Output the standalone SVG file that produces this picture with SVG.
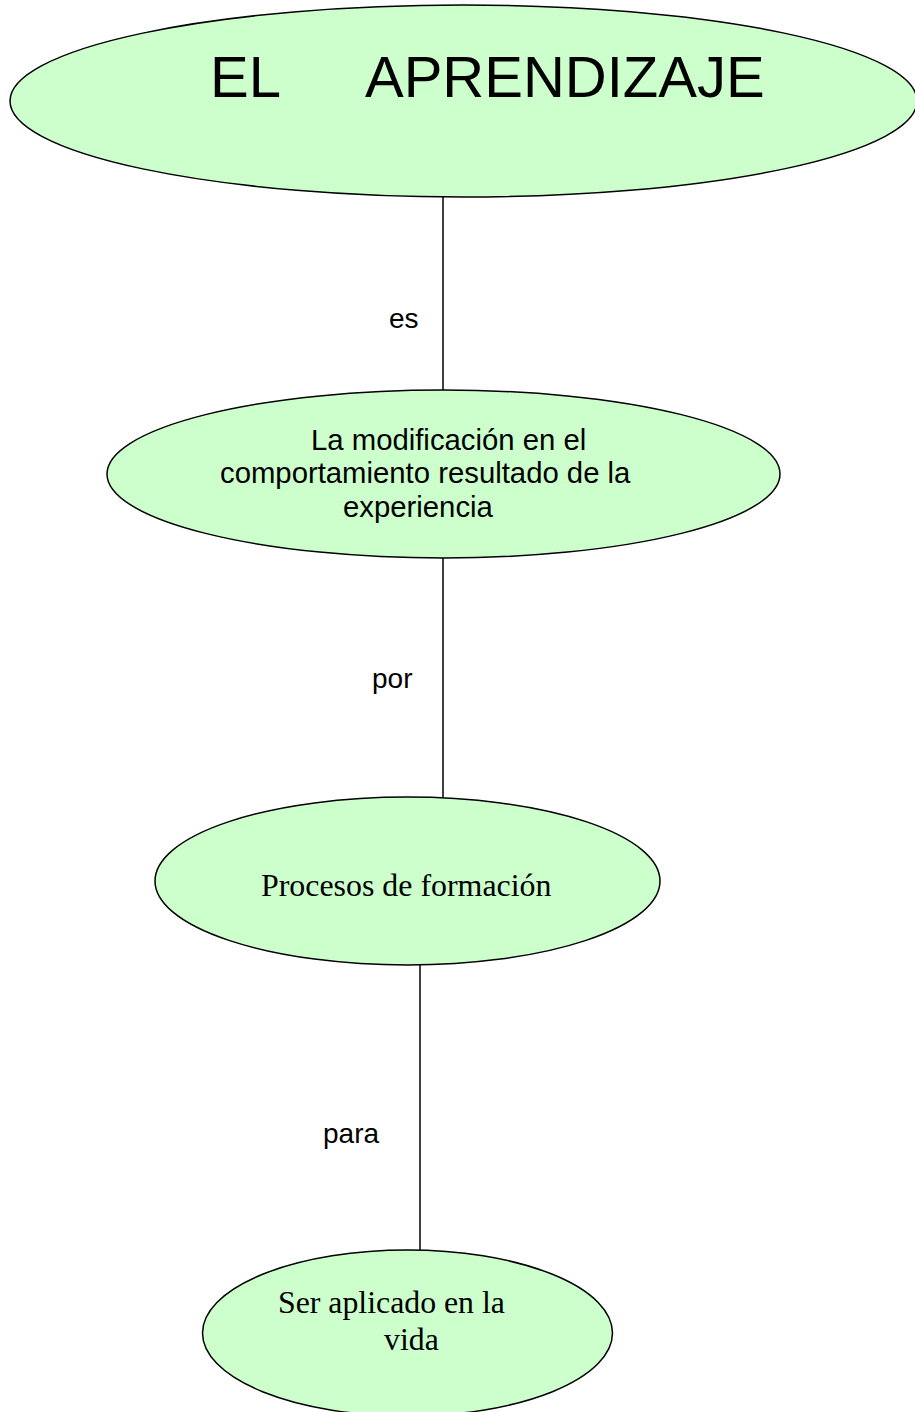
<svg xmlns="http://www.w3.org/2000/svg" width="915" height="1412" viewBox="0 0 915 1412">
<style>
.node{fill:#CCFFCC;stroke:#000;stroke-width:1.5}
.conn{stroke:#000;stroke-width:1.5;fill:none}
.sans{font-family:"Liberation Sans",Arial,sans-serif;fill:#000}
.serif{font-family:"Liberation Serif","Times New Roman",serif;fill:#000}
.lbl{font-size:28px}
</style>
<rect width="915" height="1412" fill="#fff"/>
<g id="connectors">
<line class="conn" x1="443" y1="197" x2="443" y2="390"/>
<line class="conn" x1="443" y1="558" x2="443" y2="800"/>
<line class="conn" x1="420" y1="963" x2="420" y2="1250"/>
<text class="sans lbl" x="389" y="328">es</text>
<text class="sans lbl" x="372" y="688">por</text>
<text class="sans lbl" x="323" y="1143">para</text>
</g>
<g id="node-aprendizaje">
<ellipse class="node" cx="463.5" cy="101" rx="453.5" ry="96"/>
<text class="sans" y="97" font-size="58"><tspan x="210">EL</tspan><tspan x="365">APRENDIZAJE</tspan></text>
</g>
<g id="node-modificacion">
<ellipse class="node" cx="443.5" cy="474" rx="336.5" ry="84"/>
<text class="sans" font-size="29.3"><tspan x="311" y="450">La modificación en el</tspan><tspan x="220" y="483">comportamiento resultado de la</tspan><tspan x="343" y="517">experiencia</tspan></text>
</g>
<g id="node-procesos">
<ellipse class="node" cx="407.5" cy="881" rx="252.5" ry="84"/>
<text class="serif" x="261" y="896" font-size="31.9">Procesos de formación</text>
</g>
<g id="node-ser">
<ellipse class="node" cx="407.5" cy="1333" rx="205" ry="83"/>
<text class="serif" font-size="31.8"><tspan x="278" y="1313">Ser aplicado en la</tspan><tspan x="384" y="1350">vida</tspan></text>
</g>
</svg>
